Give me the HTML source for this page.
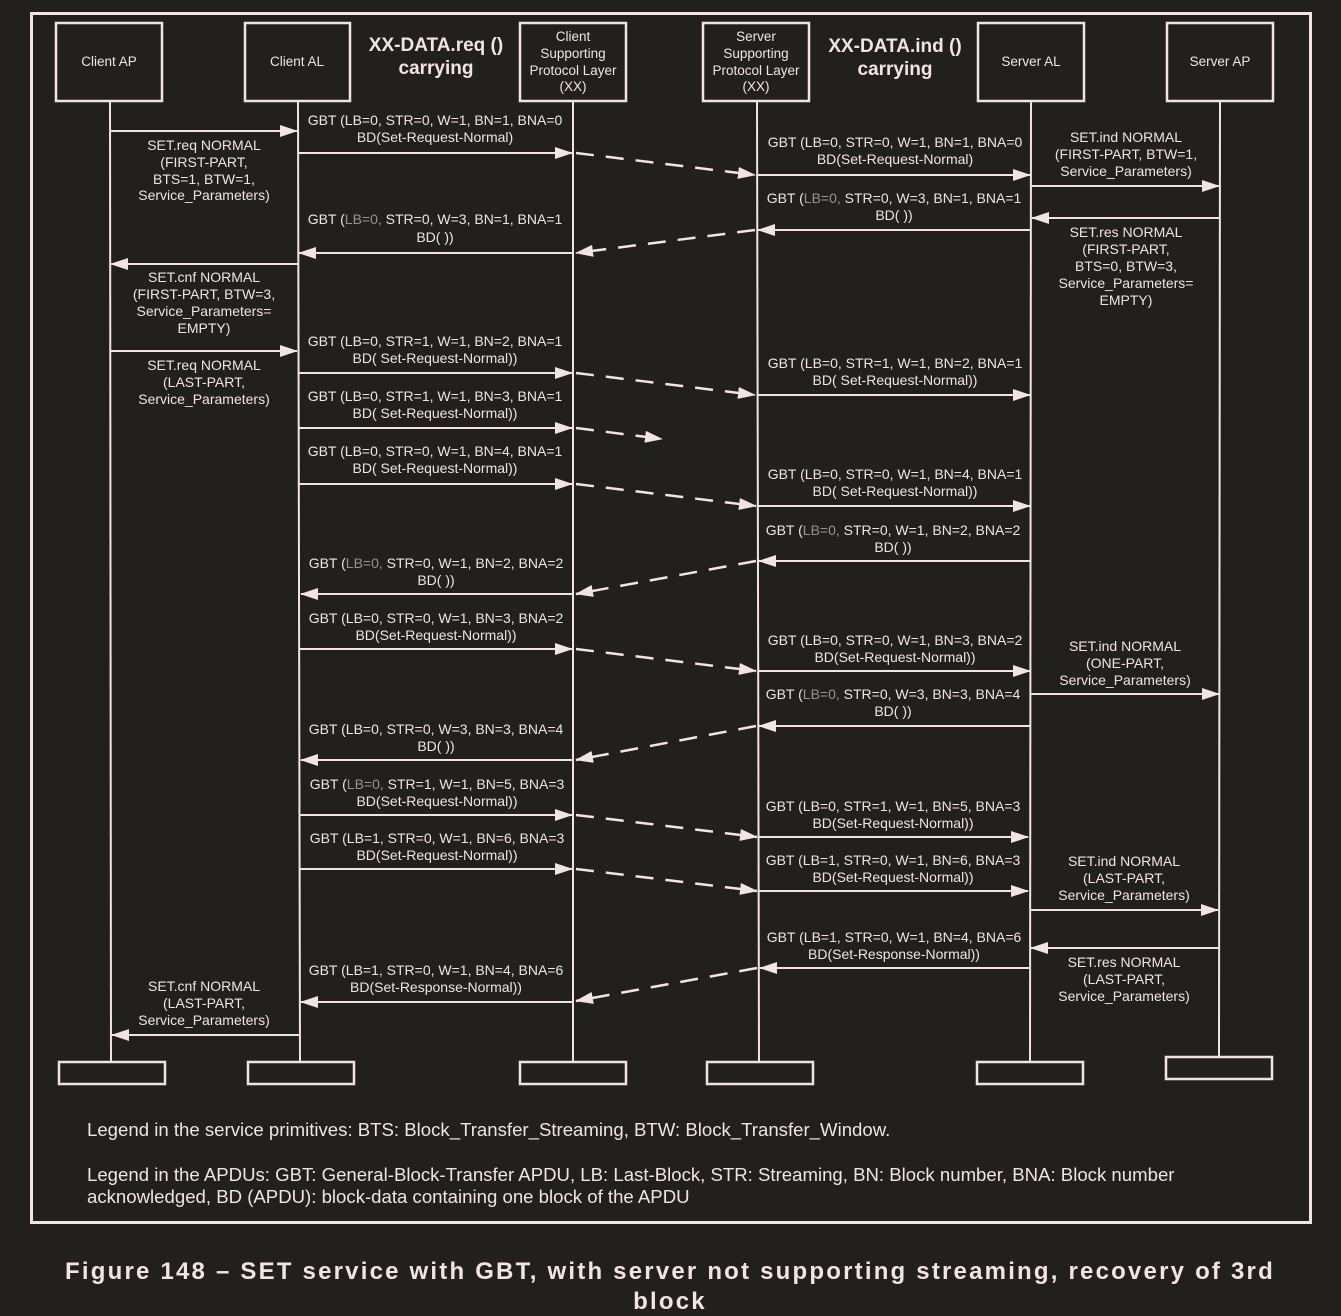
<!DOCTYPE html>
<html><head><meta charset="utf-8"><style>
html,body{margin:0;padding:0;background:#221f1f;}
svg{display:block;}
text{font-family:"Liberation Sans",Arial,sans-serif;fill:#f3e3e3;}
.l{font-size:14px;text-anchor:middle;}
.g{fill:#9a9090;}
.h{font-size:19px;font-weight:bold;text-anchor:middle;}
.b{font-size:13.5px;text-anchor:middle;}
</style></head><body>
<svg width="1341" height="1316" viewBox="0 0 1341 1316" xmlns="http://www.w3.org/2000/svg">
<defs>
<marker id="a" markerWidth="18" markerHeight="12" refX="17" refY="6" orient="auto" markerUnits="userSpaceOnUse">
<path d="M0,0 L18,6 L0,12 z" fill="#f3e3e3"/></marker>
</defs>
<rect x="0" y="0" width="1341" height="1316" fill="#221f1f"/>
<g stroke="#f3e3e3" fill="none" stroke-width="3">
<rect x="31.5" y="13.5" width="1279" height="1209"/>
<g stroke-width="2.5">
<rect x="56" y="23" width="106" height="78"/>
<rect x="245" y="23" width="105" height="78"/>
<rect x="520" y="23" width="106" height="78"/>
<rect x="703" y="23" width="106" height="78"/>
<rect x="978" y="23" width="106" height="78"/>
<rect x="1167" y="23" width="106" height="78"/>
<rect x="59" y="1062" width="106" height="22"/>
<rect x="248" y="1062" width="106" height="22"/>
<rect x="520" y="1062" width="106" height="22"/>
<rect x="707" y="1062" width="106" height="22"/>
<rect x="977" y="1062" width="106" height="22"/>
<rect x="1166" y="1057" width="106" height="22"/>
</g>
</g>
<g stroke="#f3e3e3" stroke-width="2" fill="none">
<line x1="110" y1="101" x2="111" y2="1062"/>
<line x1="298" y1="101" x2="300" y2="1062"/>
<line x1="573" y1="101" x2="573" y2="1062"/>
<line x1="757" y1="101" x2="759" y2="1062"/>
<line x1="1031" y1="101" x2="1030" y2="1062"/>
<line x1="1220" y1="101" x2="1219" y2="1057"/>
</g>
<g stroke="#f3e3e3" stroke-width="2" fill="none" marker-end="url(#a)">
<line x1="110" y1="131" x2="297" y2="131"/>
<line x1="298" y1="153" x2="572" y2="153"/>
<line x1="757" y1="175" x2="1030" y2="175"/>
<line x1="1031" y1="186" x2="1219" y2="186"/>
<line x1="1220" y1="218" x2="1032" y2="218"/>
<line x1="1031" y1="230" x2="758" y2="230"/>
<line x1="573" y1="253" x2="299" y2="253"/>
<line x1="298" y1="264" x2="111" y2="264"/>
<line x1="110" y1="351" x2="297" y2="351"/>
<line x1="298" y1="373" x2="572" y2="373"/>
<line x1="757" y1="395" x2="1030" y2="395"/>
<line x1="299" y1="428" x2="572" y2="428"/>
<line x1="299" y1="484" x2="572" y2="484"/>
<line x1="758" y1="506" x2="1030" y2="506"/>
<line x1="1030" y1="561" x2="759" y2="561"/>
<line x1="573" y1="594" x2="301" y2="594"/>
<line x1="299" y1="649" x2="572" y2="649"/>
<line x1="758" y1="671" x2="1030" y2="671"/>
<line x1="1030" y1="694" x2="1219" y2="694"/>
<line x1="1030" y1="726" x2="759" y2="726"/>
<line x1="573" y1="760" x2="301" y2="760"/>
<line x1="299" y1="815" x2="572" y2="815"/>
<line x1="758" y1="837" x2="1028" y2="837"/>
<line x1="299" y1="869" x2="572" y2="869"/>
<line x1="758" y1="891" x2="1028" y2="891"/>
<line x1="1030" y1="910" x2="1218" y2="910"/>
<line x1="1219" y1="948" x2="1031" y2="948"/>
<line x1="1030" y1="968" x2="760" y2="968"/>
<line x1="573" y1="1002" x2="301" y2="1002"/>
<line x1="299" y1="1035" x2="112" y2="1035"/>
</g>
<g stroke="#f3e3e3" stroke-width="2.5" fill="none" stroke-dasharray="18,12" marker-end="url(#a)">
<line x1="576" y1="153" x2="755" y2="175"/>
<line x1="755" y1="230" x2="576" y2="253"/>
<line x1="576" y1="373" x2="755" y2="395"/>
<line x1="576" y1="428" x2="662" y2="439"/>
<line x1="576" y1="484" x2="756" y2="506"/>
<line x1="756" y1="561" x2="576" y2="594"/>
<line x1="576" y1="649" x2="756" y2="671"/>
<line x1="756" y1="726" x2="576" y2="760"/>
<line x1="576" y1="815" x2="757" y2="837"/>
<line x1="576" y1="869" x2="757" y2="891"/>
<line x1="757" y1="968" x2="576" y2="1001"/>
</g>
<text class="b" x="109" y="66">Client AP</text>
<text class="b" x="297" y="66">Client AL</text>
<text class="b" x="573" y="41">Client</text><text class="b" x="573" y="58">Supporting</text><text class="b" x="573" y="75">Protocol Layer</text><text class="b" x="573" y="91">(XX)</text>
<text class="b" x="756" y="41">Server</text><text class="b" x="756" y="58">Supporting</text><text class="b" x="756" y="75">Protocol Layer</text><text class="b" x="756" y="91">(XX)</text>
<text class="b" x="1031" y="66">Server AL</text>
<text class="b" x="1220" y="66">Server AP</text>
<text class="h" x="436" y="51">XX-DATA.req ()</text><text class="h" x="436" y="74">carrying</text>
<text class="h" x="895" y="52">XX-DATA.ind ()</text><text class="h" x="895" y="75">carrying</text>

<g>
<text class="l" x="204" y="150">SET.req NORMAL</text><text class="l" x="204" y="167">(FIRST-PART,</text><text class="l" x="204" y="184">BTS=1, BTW=1,</text><text class="l" x="204" y="200">Service_Parameters)</text>
<text class="l" x="435" y="125">GBT (LB=0, STR=0, W=1, BN=1, BNA=0</text><text class="l" x="435" y="142">BD(Set-Request-Normal)</text>
<text class="l" x="895" y="147">GBT (LB=0, STR=0, W=1, BN=1, BNA=0</text><text class="l" x="895" y="164">BD(Set-Request-Normal)</text>
<text class="l" x="1126" y="142">SET.ind NORMAL</text><text class="l" x="1126" y="159">(FIRST-PART, BTW=1,</text><text class="l" x="1126" y="176">Service_Parameters)</text>
<text class="l" x="894" y="203">GBT (<tspan class="g">LB=0,</tspan> STR=0, W=3, BN=1, BNA=1</text><text class="l" x="894" y="220">BD( ))</text>
<text class="l" x="1126" y="237">SET.res NORMAL</text><text class="l" x="1126" y="254">(FIRST-PART,</text><text class="l" x="1126" y="271">BTS=0, BTW=3,</text><text class="l" x="1126" y="288">Service_Parameters=</text><text class="l" x="1126" y="305">EMPTY)</text>
<text class="l" x="435" y="224">GBT (<tspan class="g">LB=0,</tspan> STR=0, W=3, BN=1, BNA=1</text><text class="l" x="435" y="242">BD( ))</text>
<text class="l" x="204" y="282">SET.cnf NORMAL</text><text class="l" x="204" y="299">(FIRST-PART, BTW=3,</text><text class="l" x="204" y="316">Service_Parameters=</text><text class="l" x="204" y="333">EMPTY)</text>
<text class="l" x="204" y="370">SET.req NORMAL</text><text class="l" x="204" y="387">(LAST-PART,</text><text class="l" x="204" y="404">Service_Parameters)</text>
<text class="l" x="435" y="346">GBT (LB=0, STR=1, W=1, BN=2, BNA=1</text><text class="l" x="435" y="363">BD( Set-Request-Normal))</text>
<text class="l" x="895" y="368">GBT (LB=0, STR=1, W=1, BN=2, BNA=1</text><text class="l" x="895" y="385">BD( Set-Request-Normal))</text>
<text class="l" x="435" y="401">GBT (LB=0, STR=1, W=1, BN=3, BNA=1</text><text class="l" x="435" y="418">BD( Set-Request-Normal))</text>
<text class="l" x="435" y="456">GBT (LB=0, STR=0, W=1, BN=4, BNA=1</text><text class="l" x="435" y="473">BD( Set-Request-Normal))</text>
<text class="l" x="895" y="479">GBT (LB=0, STR=0, W=1, BN=4, BNA=1</text><text class="l" x="895" y="496">BD( Set-Request-Normal))</text>
<text class="l" x="893" y="535">GBT (<tspan class="g">LB=0,</tspan> STR=0, W=1, BN=2, BNA=2</text><text class="l" x="893" y="552">BD( ))</text>
<text class="l" x="436" y="568">GBT (<tspan class="g">LB=0,</tspan> STR=0, W=1, BN=2, BNA=2</text><text class="l" x="436" y="585">BD( ))</text>
<text class="l" x="436" y="623">GBT (LB=0, STR=0, W=1, BN=3, BNA=2</text><text class="l" x="436" y="640">BD(Set-Request-Normal))</text>
<text class="l" x="895" y="645">GBT (LB=0, STR=0, W=1, BN=3, BNA=2</text><text class="l" x="895" y="662">BD(Set-Request-Normal))</text>
<text class="l" x="1125" y="651">SET.ind NORMAL</text><text class="l" x="1125" y="668">(ONE-PART,</text><text class="l" x="1125" y="685">Service_Parameters)</text>
<text class="l" x="893" y="699">GBT (<tspan class="g">LB=0,</tspan> STR=0, W=3, BN=3, BNA=4</text><text class="l" x="893" y="716">BD( ))</text>
<text class="l" x="436" y="734">GBT (LB=0, STR=0, W=3, BN=3, BNA=4</text><text class="l" x="436" y="751">BD( ))</text>
<text class="l" x="437" y="789">GBT (<tspan class="g">LB=0,</tspan> STR=1, W=1, BN=5, BNA=3</text><text class="l" x="437" y="806">BD(Set-Request-Normal))</text>
<text class="l" x="893" y="811">GBT (LB=0, STR=1, W=1, BN=5, BNA=3</text><text class="l" x="893" y="828">BD(Set-Request-Normal))</text>
<text class="l" x="437" y="843">GBT (LB=1, STR=0, W=1, BN=6, BNA=3</text><text class="l" x="437" y="860">BD(Set-Request-Normal))</text>
<text class="l" x="893" y="865">GBT (LB=1, STR=0, W=1, BN=6, BNA=3</text><text class="l" x="893" y="882">BD(Set-Request-Normal))</text>
<text class="l" x="1124" y="866">SET.ind NORMAL</text><text class="l" x="1124" y="883">(LAST-PART,</text><text class="l" x="1124" y="900">Service_Parameters)</text>
<text class="l" x="894" y="942">GBT (LB=1, STR=0, W=1, BN=4, BNA=6</text><text class="l" x="894" y="959">BD(Set-Response-Normal))</text>
<text class="l" x="1124" y="967">SET.res NORMAL</text><text class="l" x="1124" y="984">(LAST-PART,</text><text class="l" x="1124" y="1001">Service_Parameters)</text>
<text class="l" x="436" y="975">GBT (LB=1, STR=0, W=1, BN=4, BNA=6</text><text class="l" x="436" y="992">BD(Set-Response-Normal))</text>
<text class="l" x="204" y="991">SET.cnf NORMAL</text><text class="l" x="204" y="1008">(LAST-PART,</text><text class="l" x="204" y="1025">Service_Parameters)</text>
</g>
<text x="87" y="1136" style="font-size:18.6px">Legend in the service primitives: BTS: Block_Transfer_Streaming,  BTW: Block_Transfer_Window.</text>
<text x="87" y="1181" style="font-size:18.6px">Legend in the APDUs: GBT: General-Block-Transfer APDU, LB: Last-Block, STR: Streaming, BN: Block number, BNA: Block number</text>
<text x="87" y="1203" style="font-size:18.6px">acknowledged, BD (APDU): block-data containing one block of the APDU</text>
<text x="670" y="1279" style="font-size:24px;font-weight:bold;text-anchor:middle;letter-spacing:2.2px">Figure 148 – SET service with GBT, with server not supporting streaming, recovery of 3rd</text>
<text x="670" y="1309" style="font-size:24px;font-weight:bold;text-anchor:middle;letter-spacing:2.2px">block</text>
</svg>
</body></html>
